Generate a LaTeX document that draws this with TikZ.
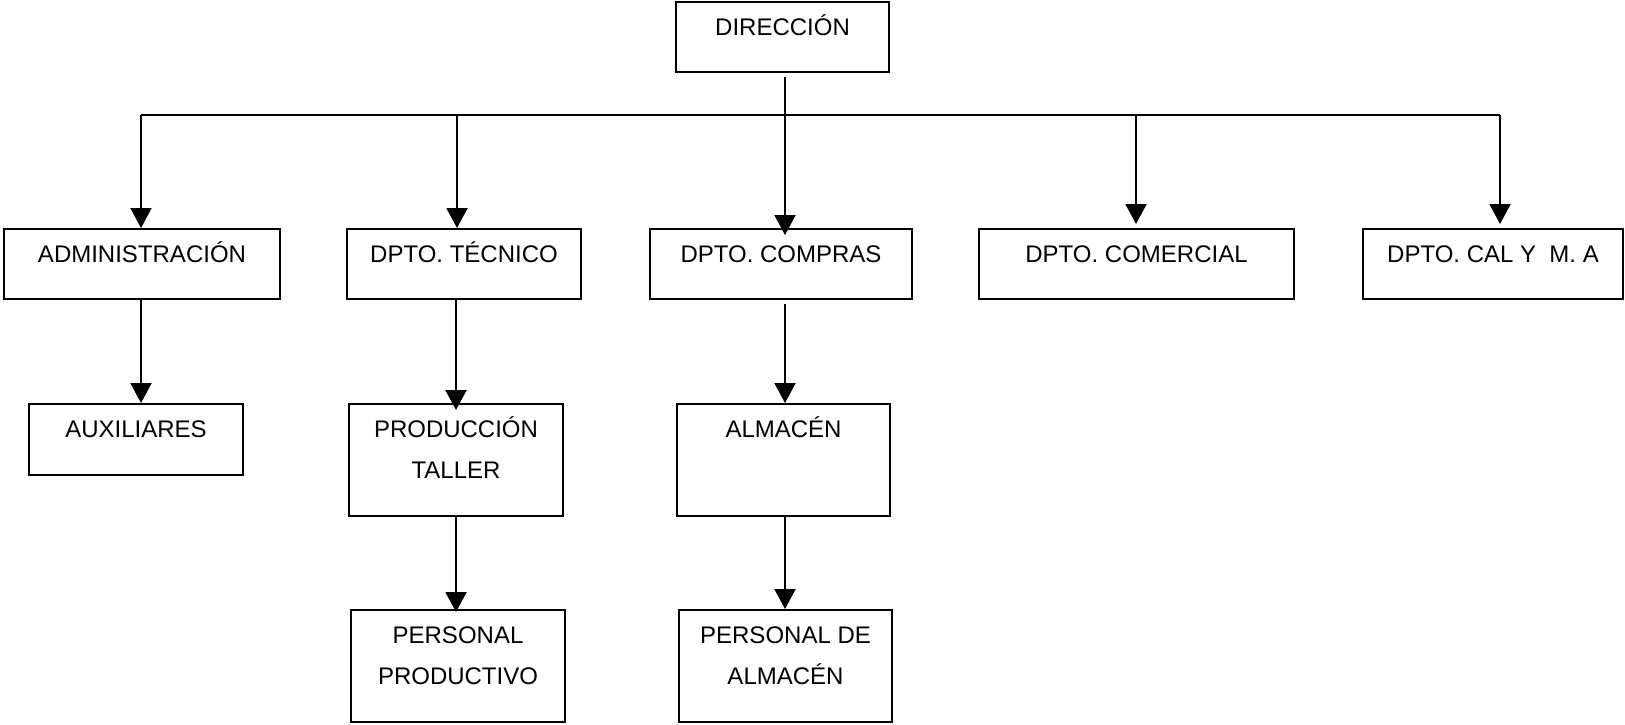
\documentclass[tikz,border=0pt]{standalone}
\usepackage{fontspec}
\setmainfont{Liberation Sans}
\usetikzlibrary{arrows.meta}
\newcommand{\Caja}[3]{\parbox[c][#2][t]{#1}{\centering\rule{0pt}{16.75pt}#3}}

\begin{document}
\begin{tikzpicture}[x=0.5pt,y=-0.5pt,line width=1pt,
    >={Triangle[length=10pt,width=10.5pt]},
    font=\fontsize{12pt}{20.5pt}\selectfont]
\tikzstyle{caja}=[draw,inner sep=0pt]

\useasboundingbox (0,0) rectangle (1625,724);

\node[caja] (dir) at (782.5,37) {\Caja{106.5pt}{35pt}{DIRECCIÓN}};

\node[caja] (adm) at (142,264)    {\Caja{138pt}{35pt}{ADMINISTRACIÓN}};
\node[caja] (tec) at (464,264)    {\Caja{117pt}{35pt}{DPTO. TÉCNICO}};
\node[caja] (com) at (781,264)    {\Caja{131pt}{35pt}{DPTO. COMPRAS}};
\node[caja] (cml) at (1136.5,264) {\Caja{157.5pt}{35pt}{DPTO. COMERCIAL}};
\node[caja] (cal) at (1493,264)   {\Caja{130pt}{35pt}{DPTO. CAL Y\ \ M. A}};

\node[caja] (aux) at (136,439.5)  {\Caja{107pt}{35.5pt}{AUXILIARES}};
\node[caja] (prd) at (456,460)    {\Caja{107pt}{56pt}{PRODUCCIÓN\\TALLER}};
\node[caja] (alm) at (783.5,460)  {\Caja{106.5pt}{56pt}{ALMACÉN}};

\node[caja] (ppr) at (458,666)    {\Caja{107pt}{56pt}{PERSONAL\\PRODUCTIVO}};
\node[caja] (pal) at (785.5,666)  {\Caja{106.5pt}{56pt}{PERSONAL DE\\ALMACÉN}};

% barra horizontal
\coordinate (b1) at (141,115);
\coordinate (b2) at (457,115);
\coordinate (b3) at (785,115);
\coordinate (b4) at (1136,115);
\coordinate (b5) at (1500,115);
\draw (b1) -- (b5);

\path[->] (dir.south -| b3) edge [shorten <=2pt,shorten >=-3.5pt] (com.north -| b3)
      (b1) edge (adm.north -| b1)
      (b2) edge (tec.north -| b2)
      (b4) edge [shorten >=2pt] (cml.north -| b4)
      (b5) edge [shorten >=2pt] (cal.north -| b5)
      (adm.south -| b1) edge (aux.north -| b1)
      (tec.south -| prd) edge [shorten >=-3.5pt] (prd.north)
      (com.south -| b3) edge [shorten <=2pt] (alm.north -| b3)
      (prd.south) edge [shorten >=-1.5pt] (ppr.north -| prd)
      (alm.south -| b3) edge (pal.north -| b3)
;
\end{tikzpicture}
\end{document}
